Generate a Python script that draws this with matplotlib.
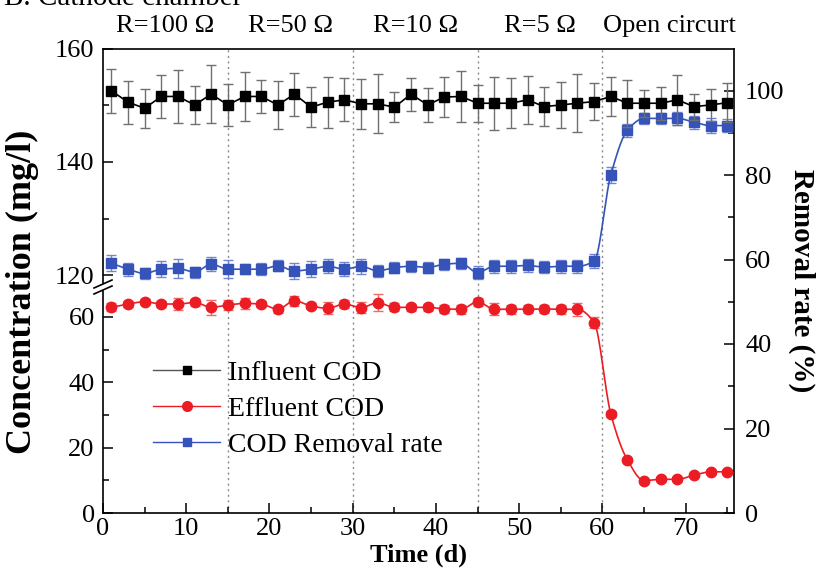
import numpy as np
import matplotlib
matplotlib.use("Agg")
import matplotlib.pyplot as plt
from matplotlib.lines import Line2D

plt.rcParams['font.family'] = ['Liberation Serif', 'DejaVu Serif']

# sampling days (d)
days = [1, 3, 5, 7, 9, 11, 13, 15, 17, 19, 21, 23, 25, 27, 29, 31, 33, 35, 37,
        39, 41, 43, 45, 47, 49, 51, 53, 55, 57, 59, 61, 63, 65, 67, 69, 71, 73, 75]

# influent COD (mg/l), left axis upper part
influent = [152.6, 150.6, 149.5, 151.6, 151.6, 150.1, 152.0, 150.1, 151.6, 151.6,
            150.1, 152.0, 149.7, 150.6, 151.0, 150.3, 150.3, 149.7, 152.0, 150.1,
            151.5, 151.6, 150.4, 150.4, 150.4, 151.0, 149.8, 150.1, 150.4, 150.7,
            151.6, 150.4, 150.4, 150.4, 151.0, 149.8, 150.1, 150.5]
influent_err = [3.9, 3.8, 3.45, 3.8, 4.7, 3.4, 5.1, 3.7, 4.3, 2.9,
                4.3, 3.8, 3.5, 4.5, 3.8, 4.4, 5.2, 2.7, 2.9, 3.0,
                3.5, 4.5, 3.3, 4.7, 4.4, 4.3, 3.5, 4.0, 5.1, 3.3,
                3.4, 4.2, 2.4, 2.9, 4.4, 2.3, 2.9, 3.5]

# effluent COD (mg/l), left axis lower part
effluent = [62.9, 63.9, 64.6, 63.9, 63.9, 64.4, 62.9, 63.6, 64.1, 63.9,
            62.3, 64.9, 63.3, 62.6, 63.9, 62.8, 64.3, 62.9, 62.9, 62.9,
            62.4, 62.3, 64.6, 62.3, 62.3, 62.3, 62.4, 62.3, 62.3, 58.2,
            30.3, 16.2, 9.9, 10.3, 10.3, 11.6, 12.6, 12.6]
effluent_err = [1.2, 1.0, 0.8, 1.0, 1.8, 1.0, 2.2, 1.5, 1.8, 1.0,
                1.0, 1.6, 1.0, 1.8, 1.2, 1.6, 2.6, 1.2, 1.0, 1.0,
                1.2, 1.4, 1.2, 1.8, 1.4, 1.2, 1.2, 1.4, 2.0, 1.6,
                0.8, 0.6, 0.6, 0.6, 0.6, 0.6, 0.6, 0.6]

# COD removal rate (%), right axis
removal = [59.1, 57.7, 56.7, 57.7, 57.9, 57.0, 58.9, 57.7, 57.7, 57.7,
           58.5, 57.3, 57.7, 58.4, 57.7, 58.4, 57.3, 58.1, 58.4, 58.1,
           58.9, 59.1, 56.9, 58.4, 58.4, 58.6, 58.2, 58.4, 58.4, 59.6,
           80.0, 90.6, 93.4, 93.4, 93.4, 92.5, 91.7, 91.7]
removal_err = [1.9, 1.5, 1.2, 1.9, 2.2, 1.3, 1.6, 2.1, 1.2, 1.4,
               1.3, 1.8, 1.9, 1.7, 1.6, 1.8, 1.5, 1.4, 1.3, 1.2,
               1.3, 1.3, 1.5, 1.6, 1.5, 1.5, 1.4, 1.6, 1.5, 1.6,
               2.0, 1.5, 1.3, 1.3, 1.6, 1.5, 1.7, 1.5]

stage_bounds = [15, 30, 45, 60]
stage_labels = [u"R=100 \u03a9", u"R=50 \u03a9", u"R=10 \u03a9", u"R=5 \u03a9", "Open circurt"]
stage_centers = [7.5, 22.5, 37.5, 52.5, 68]


def smooth(x, y, n=16):
    # monotone cubic (pchip) curve through the points, only for drawing the line
    x = np.asarray(x, float)
    y = np.asarray(y, float)
    h = np.diff(x)
    d = np.diff(y) / h
    m = np.zeros_like(y)
    m[0], m[-1] = d[0], d[-1]
    for k in range(1, len(x) - 1):
        if d[k - 1] * d[k] > 0:
            w1 = 2 * h[k] + h[k - 1]
            w2 = h[k] + 2 * h[k - 1]
            m[k] = (w1 + w2) / (w1 / d[k - 1] + w2 / d[k])
    xs, ys = [], []
    for k in range(len(x) - 1):
        t = np.linspace(0, 1, n, endpoint=False)
        h00 = 2 * t**3 - 3 * t**2 + 1
        h10 = t**3 - 2 * t**2 + t
        h01 = -2 * t**3 + 3 * t**2
        h11 = t**3 - t**2
        xs.append(x[k] + t * h[k])
        ys.append(h00 * y[k] + h10 * h[k] * m[k] + h01 * y[k + 1] + h11 * h[k] * m[k + 1])
    xs.append([x[-1]])
    ys.append([y[-1]])
    return np.concatenate(xs), np.concatenate(ys)


W, H = 821, 582
fig = plt.figure(figsize=(W / 100, H / 100), dpi=100)

L, R, T, B = 103, 734, 49, 513
top_end, bot_start = 283, 291


def rect(x0, y0, x1, y1):
    return [x0 / W, 1 - y1 / H, (x1 - x0) / W, (y1 - y0) / H]


black = '#000000'
red = '#ec1c24'
blue = '#3553b8'
fs = 19

# main axes: x axis + right axis (removal rate)
ax = fig.add_axes(rect(L, T, R, B))
ax.set_xlim(0, 75.8)
ax.set_ylim(0, (B - T) / 4.225)
ax.yaxis.tick_right()
ax.yaxis.set_label_position('right')
ax.set_xticks(range(0, 71, 10))
ax.set_xticks(range(5, 76, 10), minor=True)
ax.set_yticks(range(0, 101, 20))
ax.set_yticks(range(10, 100, 20), minor=True)
ax.spines['left'].set_visible(False)
ax.tick_params(axis='both', which='both', direction='in', labelsize=fs, top=False)
ax.tick_params(axis='both', which='major', length=7, width=1.1)
ax.tick_params(axis='both', which='minor', length=4, width=1.1)
ax.tick_params(axis='y', pad=8)
for s in ['top', 'right', 'bottom']:
    ax.spines[s].set_linewidth(1.2)

for xb in stage_bounds:
    ax.axvline(xb, color='#8a8a8a', linestyle=(0, (1.5, 2.5)), linewidth=1, zorder=0)

ax.errorbar(days, removal, yerr=removal_err, fmt='none', ecolor='#7285d2',
            elinewidth=1, capsize=3.5, capthick=1, zorder=2)
sx, sy = smooth(days, removal)
ax.plot(sx, sy, color=blue, linewidth=1.2, zorder=3)
ax.plot(days, removal, linestyle='none', marker='s', markersize=6.5, color=blue, zorder=4)

for xc, lab in zip(stage_centers, stage_labels):
    ax.text(xc, 1 + 17 / (B - T), lab, transform=ax.get_xaxis_transform(),
            ha='center', va='baseline', fontsize=fs)

ax.set_xlabel('Time (d)', fontsize=fs, fontweight='bold', labelpad=3)
ax.set_ylabel('Removal rate (%)', fontsize=fs + 2, fontweight='bold', rotation=270,
              labelpad=22)

# upper left segment (influent)
ax_top = fig.add_axes(rect(L, T, R, top_end), sharex=ax)
ax_top.patch.set_visible(False)
ax_top.set_ylim(160 - (top_end - T) / 5.65, 160)
ax_top.set_yticks([120, 140, 160])
ax_top.set_yticks([130, 150], minor=True)

# lower left segment (effluent)
ax_bot = fig.add_axes(rect(L, bot_start, R, B), sharex=ax)
ax_bot.patch.set_visible(False)
ax_bot.set_ylim(0, (B - bot_start) / 3.27)
ax_bot.set_yticks([0, 20, 40, 60])
ax_bot.set_yticks([10, 30, 50], minor=True)

for a in (ax_top, ax_bot):
    for s in ['top', 'right', 'bottom']:
        a.spines[s].set_visible(False)
    a.spines['left'].set_linewidth(1.2)
    a.tick_params(axis='x', which='both', bottom=False, labelbottom=False)
    a.tick_params(axis='y', which='both', direction='in', labelsize=fs, width=1.1, pad=6)
    a.tick_params(axis='y', which='major', length=7)
    a.tick_params(axis='y', which='minor', length=4)

ax_top.errorbar(days, influent, yerr=influent_err, fmt='none', ecolor='#707070',
                elinewidth=1, capsize=3.5, capthick=1, zorder=2)
ax_top.plot(days, influent, color=black, linewidth=1.2, marker='s', markersize=7, zorder=3)

ax_bot.errorbar(days, effluent, yerr=effluent_err, fmt='none', ecolor='#ee6a6a',
                elinewidth=1, capsize=3.5, capthick=1, zorder=2)
sx, sy = smooth(days, effluent)
ax_bot.plot(sx, sy, color=red, linewidth=1.2, zorder=3)
ax_bot.plot(days, effluent, linestyle='none', marker='o', markersize=7.5, color=red, zorder=4)

# axis break marks on the left spine
for yb in (top_end + 1, bot_start - 1):
    fig.add_artist(Line2D([(L - 9) / W, (L + 9) / W], [1 - (yb + 4) / H, 1 - (yb - 4) / H],
                          color='black', linewidth=1.2))

handles = [
    Line2D([], [], color='#555555', marker='s', markersize=6, linewidth=1,
           markerfacecolor=black, markeredgecolor=black),
    Line2D([], [], color=red, marker='o', markersize=7, linewidth=1),
    Line2D([], [], color=blue, marker='s', markersize=6, linewidth=1),
]
ax_bot.legend(handles, ['Influent COD', 'Effluent COD', 'COD Removal rate'],
              loc='upper left', bbox_to_anchor=(0.04, 0.80), frameon=False,
              fontsize=fs + 1, handlelength=2.4, handletextpad=0.3, labelspacing=0.38)

fig.text(22 / W, 1 - 292 / H, 'Concentration (mg/l)', rotation=90, ha='center',
         va='center', fontsize=fs + 7, fontweight='bold')
fig.text(4 / W, 1 - 5 / H, 'B. Cathode chamber', ha='left', va='baseline',
         fontsize=fs + 2)

fig.savefig('out.png', dpi=100)
